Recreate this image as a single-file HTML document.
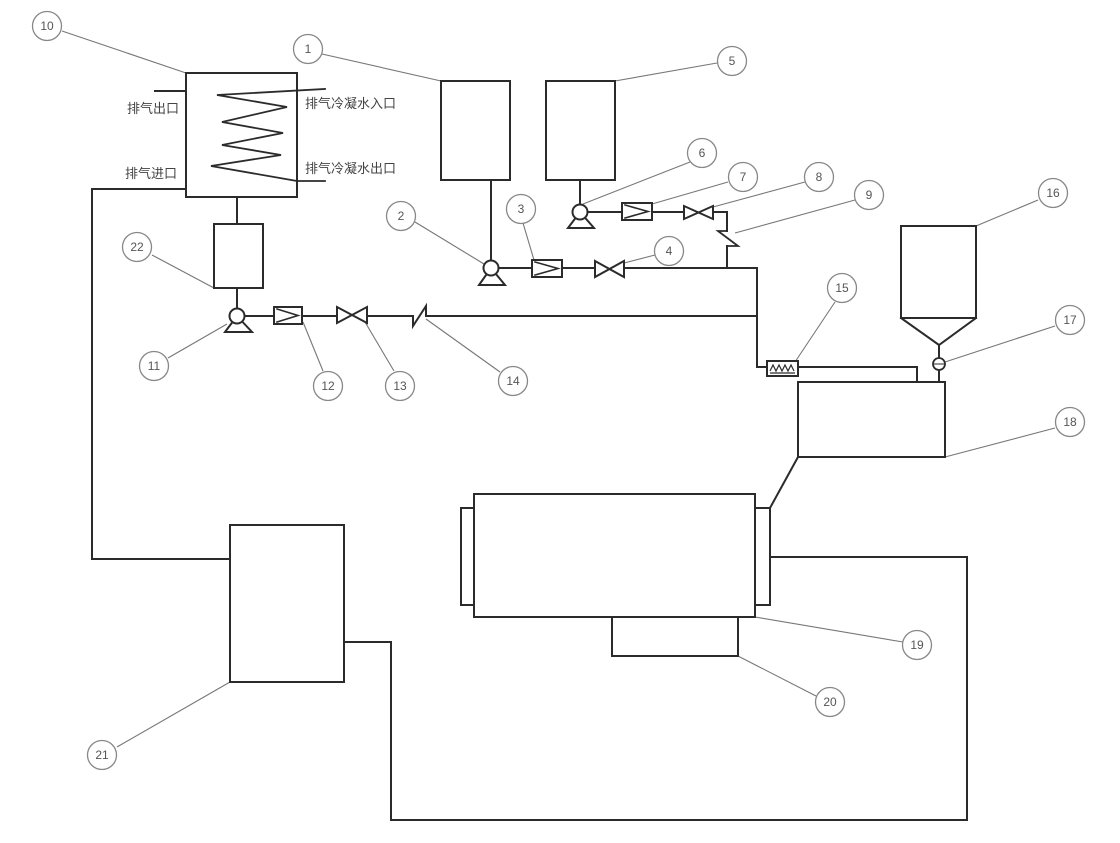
<!DOCTYPE html>
<html>
<head>
<meta charset="utf-8">
<style>
html,body{margin:0;padding:0;background:#fff;}
svg{display:block;}
.ln{stroke:#2b2b2b;stroke-width:2;fill:none;stroke-linecap:square;}
.ld{stroke:#777;stroke-width:1.1;fill:none;}
.cc{stroke:#888;stroke-width:1.3;fill:#fff;}
.num{font-family:"Liberation Sans Narrow","Liberation Sans",sans-serif;font-size:12px;fill:#555;text-anchor:middle;}
.cn{font-family:"Liberation Sans","Noto Sans CJK SC",sans-serif;font-size:13px;fill:#444;}
</style>
</head>
<body>
<svg width="1120" height="843" viewBox="0 0 1120 843" xmlns="http://www.w3.org/2000/svg">
<rect width="1120" height="843" fill="#fff"/>

<!-- leader lines -->
<g class="ld">
  <line x1="62" y1="31" x2="186" y2="73"/>
  <line x1="322" y1="54" x2="441" y2="81"/>
  <line x1="615" y1="81" x2="717" y2="63"/>
  <line x1="415" y1="222" x2="484" y2="264"/>
  <line x1="523" y1="223" x2="534" y2="260"/>
  <line x1="655" y1="255" x2="624" y2="263"/>
  <line x1="690" y1="162" x2="583" y2="204"/>
  <line x1="728" y1="182" x2="652" y2="204"/>
  <line x1="805" y1="182" x2="713" y2="207"/>
  <line x1="855" y1="200" x2="735" y2="233"/>
  <line x1="152" y1="255" x2="214" y2="288"/>
  <line x1="168" y1="358" x2="227" y2="324"/>
  <line x1="323" y1="371" x2="303" y2="322"/>
  <line x1="394" y1="371" x2="365" y2="322"/>
  <line x1="500" y1="372" x2="426" y2="319"/>
  <line x1="835" y1="302" x2="795" y2="362"/>
  <line x1="1038" y1="200" x2="976" y2="226"/>
  <line x1="1055" y1="326" x2="945" y2="362"/>
  <line x1="1055" y1="428" x2="945" y2="457"/>
  <line x1="903" y1="642" x2="755" y2="617"/>
  <line x1="816" y1="696" x2="738" y2="656"/>
  <line x1="117" y1="747" x2="230" y2="682"/>
</g>

<!-- main drawing -->
<g class="ln">
  <!-- box 10 condenser -->
  <rect x="186" y="73" width="111" height="124"/>
  <line x1="155" y1="91" x2="186" y2="91"/>
  <polyline points="325,89 217,95 287,107 222,122 283,133 222,145 281,155 211,166 297,181 325,181" style="stroke-width:1.8"/>
  <!-- exhaust inlet to box 21 -->
  <polyline points="186,189 92,189 92,559 230,559"/>
  <!-- box10 -> box22 -->
  <line x1="237" y1="197" x2="237" y2="224"/>
  <rect x="214" y="224" width="49" height="64"/>
  <line x1="237" y1="288" x2="237" y2="310"/>

  <!-- box 1 and 5 -->
  <rect x="441" y="81" width="69" height="99"/>
  <rect x="546" y="81" width="69" height="99"/>
  <line x1="491" y1="180" x2="491" y2="262"/>
  <line x1="580" y1="180" x2="580" y2="206"/>

  <!-- line from pump 2 -->
  <line x1="498" y1="268" x2="532" y2="268"/>
  <rect x="532" y="260" width="30" height="17"/>
  <polyline points="535,262 558,268.5 535,275" style="stroke-width:1.6"/>
  <line x1="562" y1="268" x2="595" y2="268"/>
  <polygon points="595,261 624,277 624,261 595,277"/>
  <line x1="624" y1="268" x2="757" y2="268"/>

  <!-- line from pump 6 -->
  <line x1="587" y1="212" x2="622" y2="212"/>
  <rect x="622" y="203" width="30" height="17"/>
  <polyline points="625,205 648,211.5 625,218" style="stroke-width:1.6"/>
  <line x1="652" y1="212" x2="684" y2="212"/>
  <polygon points="684,206 713,219 713,206 684,219"/>
  <polyline points="713,212 727,212 727,231"/>
  <!-- check valve 9 -->
  <polyline points="727,231 718,231 738,246 727,246" style="stroke-width:1.8"/>
  <line x1="727" y1="246" x2="727" y2="268"/>

  <!-- line from pump 11 -->
  <line x1="245" y1="316" x2="274" y2="316"/>
  <rect x="274" y="307" width="28" height="17"/>
  <polyline points="277,309 298,315.5 277,322" style="stroke-width:1.6"/>
  <line x1="302" y1="316" x2="337" y2="316"/>
  <polygon points="337,307 367,323 367,307 337,323"/>
  <polyline points="367,316 413,316 413,326 426,306 426,316 757,316"/>

  <!-- to fan 15 and box 18 -->
  <polyline points="757,268 757,367 767,367"/>
  <rect x="767" y="361" width="31" height="15"/>
  <polyline points="798,367 917,367 917,382"/>

  <!-- hopper 16 -->
  <rect x="901" y="226" width="75" height="92"/>
  <polyline points="901,318 939,345 976,318"/>
  <line x1="939" y1="345" x2="939" y2="358"/>
  <line x1="939" y1="370" x2="939" y2="382"/>

  <!-- box 18 -->
  <rect x="798" y="382" width="147" height="75"/>
  <line x1="798" y1="457" x2="770" y2="508"/>

  <!-- engine 19 -->
  <rect x="474" y="494" width="281" height="123"/>
  <rect x="461" y="508" width="13" height="97"/>
  <rect x="755" y="508" width="15" height="97"/>
  <rect x="612" y="617" width="126" height="39"/>

  <!-- box 21 and loop -->
  <rect x="230" y="525" width="114" height="157"/>
  <polyline points="344,642 391,642 391,820 967,820 967,557 770,557"/>
</g>

<!-- fan pattern -->
<g stroke="#2b2b2b" stroke-width="1.2" fill="none">
  <polyline points="770,371 773,365 776,371 779,365 782,371 785,365 788,371 791,365 794,371"/>
  <line x1="770" y1="373" x2="795" y2="373"/>
</g>

<!-- valve 17 -->
<circle cx="939" cy="364" r="6" fill="#fff" stroke="#2b2b2b" stroke-width="1.8"/>
<line x1="934" y1="364" x2="944" y2="364" stroke="#2b2b2b" stroke-width="1"/>

<!-- pumps -->
<g stroke="#2b2b2b" stroke-width="2" fill="#fff">
  <polygon points="491,268 479,285 505,285"/>
  <circle cx="491" cy="268" r="7.5"/>
  <polygon points="580,212 568,228 594,228"/>
  <circle cx="580" cy="212" r="7.5"/>
  <polygon points="237,316 225,332 252,332"/>
  <circle cx="237" cy="316" r="7.5"/>
</g>

<!-- label circles -->
<g>
  <circle class="cc" cx="47" cy="26" r="14.5"/><text class="num" x="47" y="30">10</text>
  <circle class="cc" cx="308" cy="49" r="14.5"/><text class="num" x="308" y="53">1</text>
  <circle class="cc" cx="732" cy="61" r="14.5"/><text class="num" x="732" y="65">5</text>
  <circle class="cc" cx="401" cy="216" r="14.5"/><text class="num" x="401" y="220">2</text>
  <circle class="cc" cx="521" cy="209" r="14.5"/><text class="num" x="521" y="213">3</text>
  <circle class="cc" cx="669" cy="251" r="14.5"/><text class="num" x="669" y="255">4</text>
  <circle class="cc" cx="702" cy="153" r="14.5"/><text class="num" x="702" y="157">6</text>
  <circle class="cc" cx="743" cy="177" r="14.5"/><text class="num" x="743" y="181">7</text>
  <circle class="cc" cx="819" cy="177" r="14.5"/><text class="num" x="819" y="181">8</text>
  <circle class="cc" cx="869" cy="195" r="14.5"/><text class="num" x="869" y="199">9</text>
  <circle class="cc" cx="137" cy="247" r="14.5"/><text class="num" x="137" y="251">22</text>
  <circle class="cc" cx="154" cy="366" r="14.5"/><text class="num" x="154" y="370">11</text>
  <circle class="cc" cx="328" cy="386" r="14.5"/><text class="num" x="328" y="390">12</text>
  <circle class="cc" cx="400" cy="386" r="14.5"/><text class="num" x="400" y="390">13</text>
  <circle class="cc" cx="513" cy="381" r="14.5"/><text class="num" x="513" y="385">14</text>
  <circle class="cc" cx="842" cy="288" r="14.5"/><text class="num" x="842" y="292">15</text>
  <circle class="cc" cx="1053" cy="193" r="14.5"/><text class="num" x="1053" y="197">16</text>
  <circle class="cc" cx="1070" cy="320" r="14.5"/><text class="num" x="1070" y="324">17</text>
  <circle class="cc" cx="1070" cy="422" r="14.5"/><text class="num" x="1070" y="426">18</text>
  <circle class="cc" cx="917" cy="645" r="14.5"/><text class="num" x="917" y="649">19</text>
  <circle class="cc" cx="830" cy="702" r="14.5"/><text class="num" x="830" y="706">20</text>
  <circle class="cc" cx="102" cy="755" r="14.5"/><text class="num" x="102" y="759">21</text>
</g>

<!-- Chinese labels -->
<text class="cn" x="127" y="113">排气出口</text>
<text class="cn" x="125" y="178">排气进口</text>
<text class="cn" x="305" y="108">排气冷凝水入口</text>
<text class="cn" x="305" y="173">排气冷凝水出口</text>
</svg>
</body>
</html>
